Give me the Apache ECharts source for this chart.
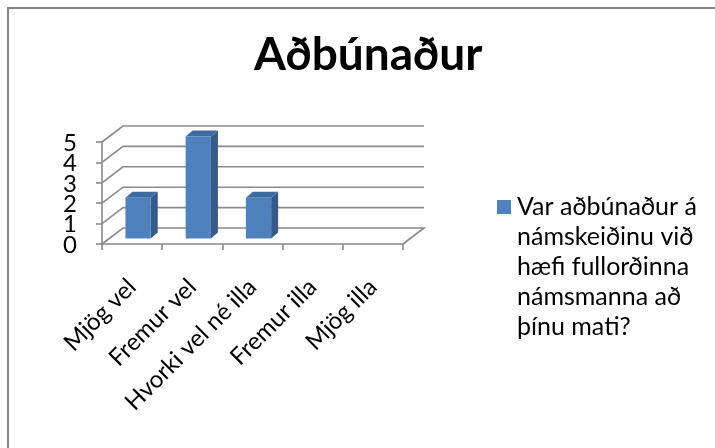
<!DOCTYPE html>
<html>
<head>
<meta charset="utf-8">
<script src="https://cdn.jsdelivr.net/npm/echarts@6/dist/echarts.min.js"></script>
<style>
  html, body { margin: 0; padding: 0; background: #fff; }
  #main { width: 715px; height: 448px; }
</style>
</head>
<body>
<div id="main"></div>
<script>
var categories = ['Mjög vel', 'Fremur vel', 'Hvorki vel né illa', 'Fremur illa', 'Mjög illa'];
var values = [2, 5, 2, 0, 0];
var yTicks = [0, 1, 2, 3, 4, 5];
var seriesName = 'Var aðbúnaður á námskeiðinu við hæfi fullorðinna námsmanna að þínu mati?';
var legendLines = ['Var aðbúnaður á', 'námskeiðinu við', 'hæfi fullorðinna', 'námsmanna að', 'þínu mati?'];

var myChart = echarts.init(document.getElementById('main'));

// 3d look: back wall offset and bar offsets (pixels)
var WALL_DX = 21, WALL_DY = -16;
var BAR_DX = 6, BAR_DY = -5.5;
var DEPTH_DX = 7, DEPTH_DY = -6;
var lineColor = '#8a8a8a';
var barColor = '#4f81bd';

function renderWall(params, api) {
    var v = api.value(1);
    var bw = api.size([1, 0])[0];
    var p0 = api.coord([0, v]);
    var p1 = api.coord([categories.length - 1, v]);
    var left = p0[0] - bw / 2;
    var right = p1[0] + bw / 2;
    var y = p0[1];
    var pts = [[left, y], [left + WALL_DX, y + WALL_DY], [right + WALL_DX, y + WALL_DY]];
    if (v === 0) pts.push([right, y]);
    return {
        type: 'group',
        children: [
            {
                type: 'polyline',
                shape: { points: pts },
                style: { stroke: lineColor, lineWidth: 1.6, fill: null }
            },
            // value label on the front axis (axis labels overlap-hide at this size)
            {
                type: 'text',
                x: left - 25,
                y: y + 1,
                style: {
                    text: String(v), align: 'right', verticalAlign: 'middle',
                    fontFamily: 'Lato', fontSize: 24, fill: '#000'
                }
            }
        ]
    };
}

function renderBar(params, api) {
    var v = api.value(1);
    if (!v) return null;
    var bw = api.size([1, 0])[0];
    var top = api.coord([api.value(0), v]);
    var base = api.coord([api.value(0), 0]);
    var w = bw * 0.42;
    var x0 = top[0] + BAR_DX - w / 2;
    var x1 = x0 + w;
    var yt = top[1] + BAR_DY;
    var yb = base[1] + BAR_DY;
    return {
        type: 'group',
        children: [
            {
                type: 'polygon',
                shape: { points: [[x1, yt], [x1 + DEPTH_DX, yt + DEPTH_DY], [x1 + DEPTH_DX, yb + DEPTH_DY], [x1, yb]] },
                style: { fill: '#365b88' }
            },
            {
                type: 'polygon',
                shape: { points: [[x0, yt], [x0 + DEPTH_DX, yt + DEPTH_DY], [x1 + DEPTH_DX, yt + DEPTH_DY], [x1, yt]] },
                style: { fill: '#3f6ba3' }
            },
            {
                type: 'rect',
                shape: { x: x0, y: yt, width: w, height: yb - yt },
                style: { fill: barColor }
            }
        ]
    };
}

var option = {
    animation: false,
    backgroundColor: '#ffffff',
    title: {
        text: 'Aðbúnaður',
        left: 249,
        top: 27,
        textStyle: { fontFamily: 'Lato', fontWeight: 'bold', fontSize: 46, color: '#000' }
    },
    legend: { show: false },
    graphic: [
        {
            type: 'rect',
            shape: { x: 8, y: 8, width: 800, height: 600 },
            style: { fill: null, stroke: '#858585', lineWidth: 2 },
            silent: true
        },
        // legend key and its wrapped text
        {
            type: 'rect',
            shape: { x: 497, y: 200, width: 14, height: 14 },
            style: { fill: barColor }
        },
        {
            type: 'text',
            left: 517,
            top: 192,
            style: {
                text: legendLines.join('\n'),
                fontFamily: 'Lato', fontSize: 25, lineHeight: 30, fill: '#000'
            }
        }
    ],
    grid: { left: 102, top: 142, width: 301, height: 102, outerBoundsMode: 'none' },
    xAxis: {
        type: 'category',
        data: categories,
        boundaryGap: true,
        axisLine: { lineStyle: { color: lineColor, width: 1.6 } },
        axisTick: { show: true, length: 6, interval: 0, lineStyle: { color: lineColor, width: 1.6 } },
        axisLabel: {
            interval: 0, rotate: 45, margin: 39,
            fontFamily: 'Lato', fontSize: 24, color: '#000'
        },
        splitLine: { show: false }
    },
    yAxis: {
        type: 'value',
        min: 0, max: 5, interval: 1,
        axisLine: { show: true, lineStyle: { color: lineColor, width: 1.6 } },
        axisTick: { show: true, length: 6, lineStyle: { color: lineColor, width: 1.6 } },
        axisLabel: { show: false },
        splitLine: { show: false }
    },
    series: [
        {
            name: 'wall',
            type: 'custom',
            renderItem: renderWall,
            data: yTicks.map(function (v) { return [0, v]; }),
            z: 1,
            silent: true
        },
        {
            name: seriesName,
            type: 'custom',
            renderItem: renderBar,
            itemStyle: { color: barColor },
            data: values.map(function (v, i) { return [i, v]; }),
            z: 2
        }
    ]
};
myChart.setOption(option);
</script>
</body>
</html>
